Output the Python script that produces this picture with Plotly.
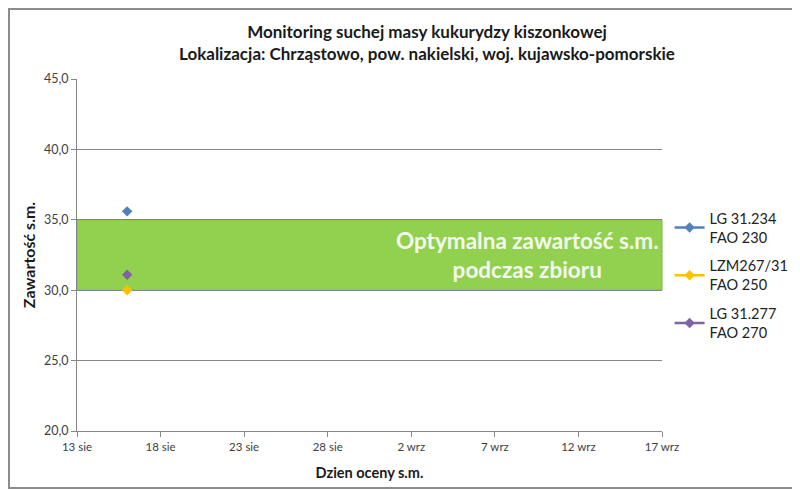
import plotly.graph_objects as go

# data
dates = ["2014-08-16"]
lg31234 = [35.6]
lzm26731 = [30.0]
lg31277 = [31.1]

series_names = ["LG 31.234<br>FAO 230", "LZM267/31<br>FAO 250", "LG 31.277<br>FAO 270"]
series_colors = ["#4F81BD", "#FFC000", "#8064A2"]

band_low = 30.0
band_high = 35.0
band_text = "Optymalna zawartość s.m.<br>podczas zbioru"

x_tickvals = ["2014-08-13", "2014-08-18", "2014-08-23", "2014-08-28",
              "2014-09-02", "2014-09-07", "2014-09-12", "2014-09-17"]
x_ticktext = ["13 sie", "18 sie", "23 sie", "28 sie", "2 wrz", "7 wrz", "12 wrz", "17 wrz"]
y_tickvals = [20, 25, 30, 35, 40, 45]
y_ticktext = ["20,0", "25,0", "30,0", "35,0", "40,0", "45,0"]

FONT = "Lato"

fig = go.Figure()
for i, vals in enumerate([lg31234, lzm26731, lg31277]):
	fig.add_trace(go.Scatter(
		x=dates, y=vals, name=series_names[i], mode="lines+markers",
		legendgroup=str(i),
		line=dict(color=series_colors[i], width=2.5),
		marker=dict(symbol="diamond", size=8, color=series_colors[i]),
	))

# optimal range band
fig.add_shape(type="rect", xref="paper", yref="y", x0=0, x1=1, y0=band_low, y1=band_high,
	fillcolor="#92D050", line=dict(color="#7FB848", width=1), layer="below")
fig.add_annotation(xref="paper", yref="y", x=0.77, y=(band_low + band_high) / 2,
	xanchor="center", yanchor="middle",
	text=band_text, showarrow=False,
	font=dict(family=FONT, size=22.5, color="#F4FAEE", weight="bold"))

# outer border of the chart (the page puts the figure 8px in from the corner)
fig.add_shape(type="rect", xref="paper", yref="paper",
	x0=-68.0 / 585, x1=720.0 / 585, y0=-57.0 / 352, y1=70.0 / 352 + 1,
	line=dict(color="#8C8C8C", width=2), fillcolor="rgba(0,0,0,0)")

fig.update_layout(
	width=792, height=483,
	margin=dict(l=69, r=138, t=71, b=60, autoexpand=False),
	paper_bgcolor="white", plot_bgcolor="white",
	font=dict(family=FONT, size=11.5, color="#404040"),
	title=dict(
		text="Monitoring suchej masy kukurydzy kiszonkowej<br>Lokalizacja: Chrząstowo, pow. nakielski, woj. kujawsko-pomorskie",
		x=0.529, xanchor="center", y=0.938, yanchor="top",
		font=dict(family=FONT, size=17, color="#1a1a1a", weight="bold"),
	),
	showlegend=True,
	legend=dict(x=1.013, xanchor="left", y=0.65, yanchor="top",
		font=dict(family=FONT, size=14.5, color="#222222"),
		itemwidth=30,
		traceorder="grouped", tracegroupgap=7, bgcolor="rgba(0,0,0,0)"),
)

fig.update_xaxes(
	type="date", range=["2014-08-13", "2014-09-17"],
	tickvals=x_tickvals, ticktext=x_ticktext,
	showgrid=False, showline=True, linecolor="#868686", linewidth=1,
	ticks="outside", ticklen=5, tickcolor="#868686",
	title=dict(text="Dzien oceny s.m.", font=dict(family=FONT, size=14.5, color="#1a1a1a", weight="bold"), standoff=16),
)
fig.update_yaxes(
	range=[20, 45], tickvals=y_tickvals, ticktext=y_ticktext,
	tickfont=dict(size=12.5),
	showgrid=True, gridcolor="#868686", gridwidth=1,
	showline=True, linecolor="#868686", linewidth=1,
	ticks="outside", ticklen=5, tickcolor="#868686",
	zeroline=False,
	title=dict(text="Zawartość s.m.", font=dict(family=FONT, size=16, color="#1a1a1a", weight="bold"), standoff=4),
)

fig.write_html("out.html")
